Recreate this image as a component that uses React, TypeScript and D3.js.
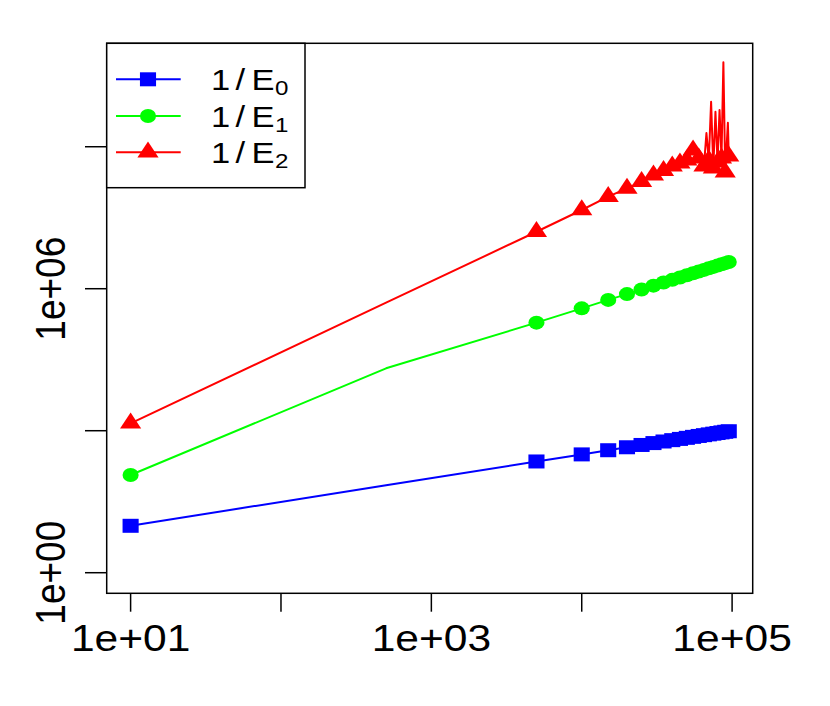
import React from 'react';
import * as d3 from 'd3';

const W = 830;
const H = 706;

// x positions of the marked points
const markedX = [10, 5000, 10000, 15000, 20000, 25000, 30000, 35000, 40000, 45000, 50000,
  55000, 60000, 65000, 70000, 75000, 80000, 85000, 90000, 95000];

// 1/E0 (blue squares)
const blueY = [9.8, 224, 316, 387, 447, 500, 548, 592, 632, 671, 707,
  742, 775, 806, 837, 866, 894, 922, 949, 975];
// 1/E1 (green circles)
const greenY = [116, 1.92e5, 3.85e5, 5.8e5, 7.7e5, 9.6e5, 1.16e6, 1.35e6, 1.54e6, 1.73e6, 1.93e6,
  2.12e6, 2.31e6, 2.5e6, 2.7e6, 2.89e6, 3.08e6, 3.27e6, 3.47e6, 3.66e6];
// 1/E2 (red triangles)
const redY = [1435, 1.6e7, 4.6e7, 8.8e7, 1.32e8, 1.82e8, 2.5e8, 3.1e8, 3.9e8, 4.5e8, 5.2e8,
  8.45e8, 5.73e8, 3.88e8, 5.2e8, 3.52e8, 4.72e8, 5.73e8, 2.9e8, 6.3e8];

// line-only (unmarked) points
const knotX = [500];
const blueKnotY = [70.7];
const greenKnotY = [20800];
const redKnotY = [5.07e5];
const redSpikeX = [67500, 72500, 77500, 82500, 87500, 93750];
const redSpikeY = [1.94e9, 8.9e9, 5.5e9, 5.97e9, 6.1e10, 3.2e9];

const xTicks = [10, 100, 1000, 10000, 100000];
const xTickLabels = ['1e+01', '', '1e+03', '', '1e+05'];
const yTicks = [1, 1e3, 1e6, 1e9];
const yTickLabels = ['1e+00', '', '1e+06', ''];

const seriesNames = ['E', 'E', 'E'];
const seriesSubs = ['0', '1', '2'];
const seriesColors = ['#0000FF', '#00FF00', '#FF0000'];
const seriesShapes = ['square', 'circle', 'triangle'];

const SX = 1.15; // horizontal stretch of the original rendering
const FONT = '"Liberation Sans", Arial, Helvetica, sans-serif';

const left = 106.7, right = 752.7, top = 43.3, bottom = 593.3;

const x = d3.scaleLog().domain([Math.pow(10, 0.841), Math.pow(10, 5.137)]).range([left, right]);
const y = d3.scaleLog().domain([Math.pow(10, -0.435), Math.pow(10, 11.185)]).range([bottom, top]);

type Pt = { x: number; y: number; marked: boolean };

function buildSeries(my: number[], kx: number[], ky: number[]): Pt[] {
  const pts: Pt[] = markedX.map((xv, i) => ({ x: xv, y: my[i], marked: true }));
  kx.forEach((xv, i) => pts.push({ x: xv, y: ky[i], marked: false }));
  pts.sort((a, b) => a.x - b.x);
  return pts;
}

const series: Pt[][] = [
  buildSeries(blueY, knotX, blueKnotY),
  buildSeries(greenY, knotX, greenKnotY),
  buildSeries(redY, knotX.concat(redSpikeX), redKnotY.concat(redSpikeY)),
];

function Marker({ shape, cx, cy, color }: { shape: string; cx: number; cy: number; color: string }) {
  let el: React.ReactNode = null;
  if (shape === 'square') el = <rect x={-7} y={-7} width={14} height={14} fill={color} />;
  else if (shape === 'circle') el = <circle r={7} fill={color} />;
  else el = <path d="M0,-10.7L9.2,5.3L-9.2,5.3Z" fill={color} />;
  return <g transform={`translate(${cx},${cy}) scale(${SX},1)`}>{el}</g>;
}

// local (unstretched) offsets for pieces of the legend label
const LX = 211;
const lpos = (target: number) => (target - LX) / SX;

export default function App() {
  const line = d3.line<Pt>().x(d => x(d.x)).y(d => y(d.y));
  const rowY = [79.3, 116, 152.3];
  return (
    <svg width={W} height={H} style={{ position: 'absolute', left: 0, top: 0, background: '#fff' }}>
      <rect x={0} y={0} width={W} height={H} fill="#fff" />
      {series.map((s, si) => (
        <g key={si}>
          <path d={line(s) || ''} fill="none" stroke={seriesColors[si]} strokeWidth={2} strokeLinejoin="round" />
          {s.filter(p => p.marked).map((p, i) => (
            <Marker key={i} shape={seriesShapes[si]} cx={x(p.x)} cy={y(p.y)} color={seriesColors[si]} />
          ))}
        </g>
      ))}
      <rect x={left} y={top} width={right - left} height={bottom - top} fill="none" stroke="#000" strokeWidth={1.5} />
      {xTicks.map((t, i) => (
        <g key={'xt' + i}>
          <line x1={x(t)} x2={x(t)} y1={bottom} y2={611.7} stroke="#000" strokeWidth={1.5} />
          {xTickLabels[i] && (
            <g transform={`translate(${x(t)},651) scale(${SX},1)`}>
              <text textAnchor="middle" fontSize={37} fontFamily={FONT} fill="#000">{xTickLabels[i]}</text>
            </g>
          )}
        </g>
      ))}
      {yTicks.map((t, i) => (
        <g key={'yt' + i}>
          <line x1={85} x2={left} y1={y(t)} y2={y(t)} stroke="#000" strokeWidth={1.5} />
          {yTickLabels[i] && (
            <g transform={`translate(65,${y(t)}) scale(${SX},1) rotate(-90)`}>
              <text textAnchor="middle" fontSize={37} fontFamily={FONT} fill="#000">{yTickLabels[i]}</text>
            </g>
          )}
        </g>
      ))}
      <rect x={left} y={top} width={305 - left} height={187.7 - top} fill="#fff" stroke="#000" strokeWidth={1.5} />
      {seriesNames.map((n, i) => (
        <g key={'lg' + i}>
          <line x1={116} x2={180.7} y1={rowY[i]} y2={rowY[i]} stroke={seriesColors[i]} strokeWidth={2} />
          <Marker shape={seriesShapes[i]} cx={148} cy={rowY[i]} color={seriesColors[i]} />
          <g transform={`translate(${LX},${rowY[i] + 10.7}) scale(${SX},1)`} fontFamily={FONT} fill="#000">
            <text x={0} fontSize={30}>1</text>
            <text x={lpos(235.5)} fontSize={30}>/</text>
            <text x={lpos(251.5)} fontSize={30}>{n}</text>
            <text x={lpos(275)} y={5} fontSize={21}>{seriesSubs[i]}</text>
          </g>
        </g>
      ))}
    </svg>
  );
}
